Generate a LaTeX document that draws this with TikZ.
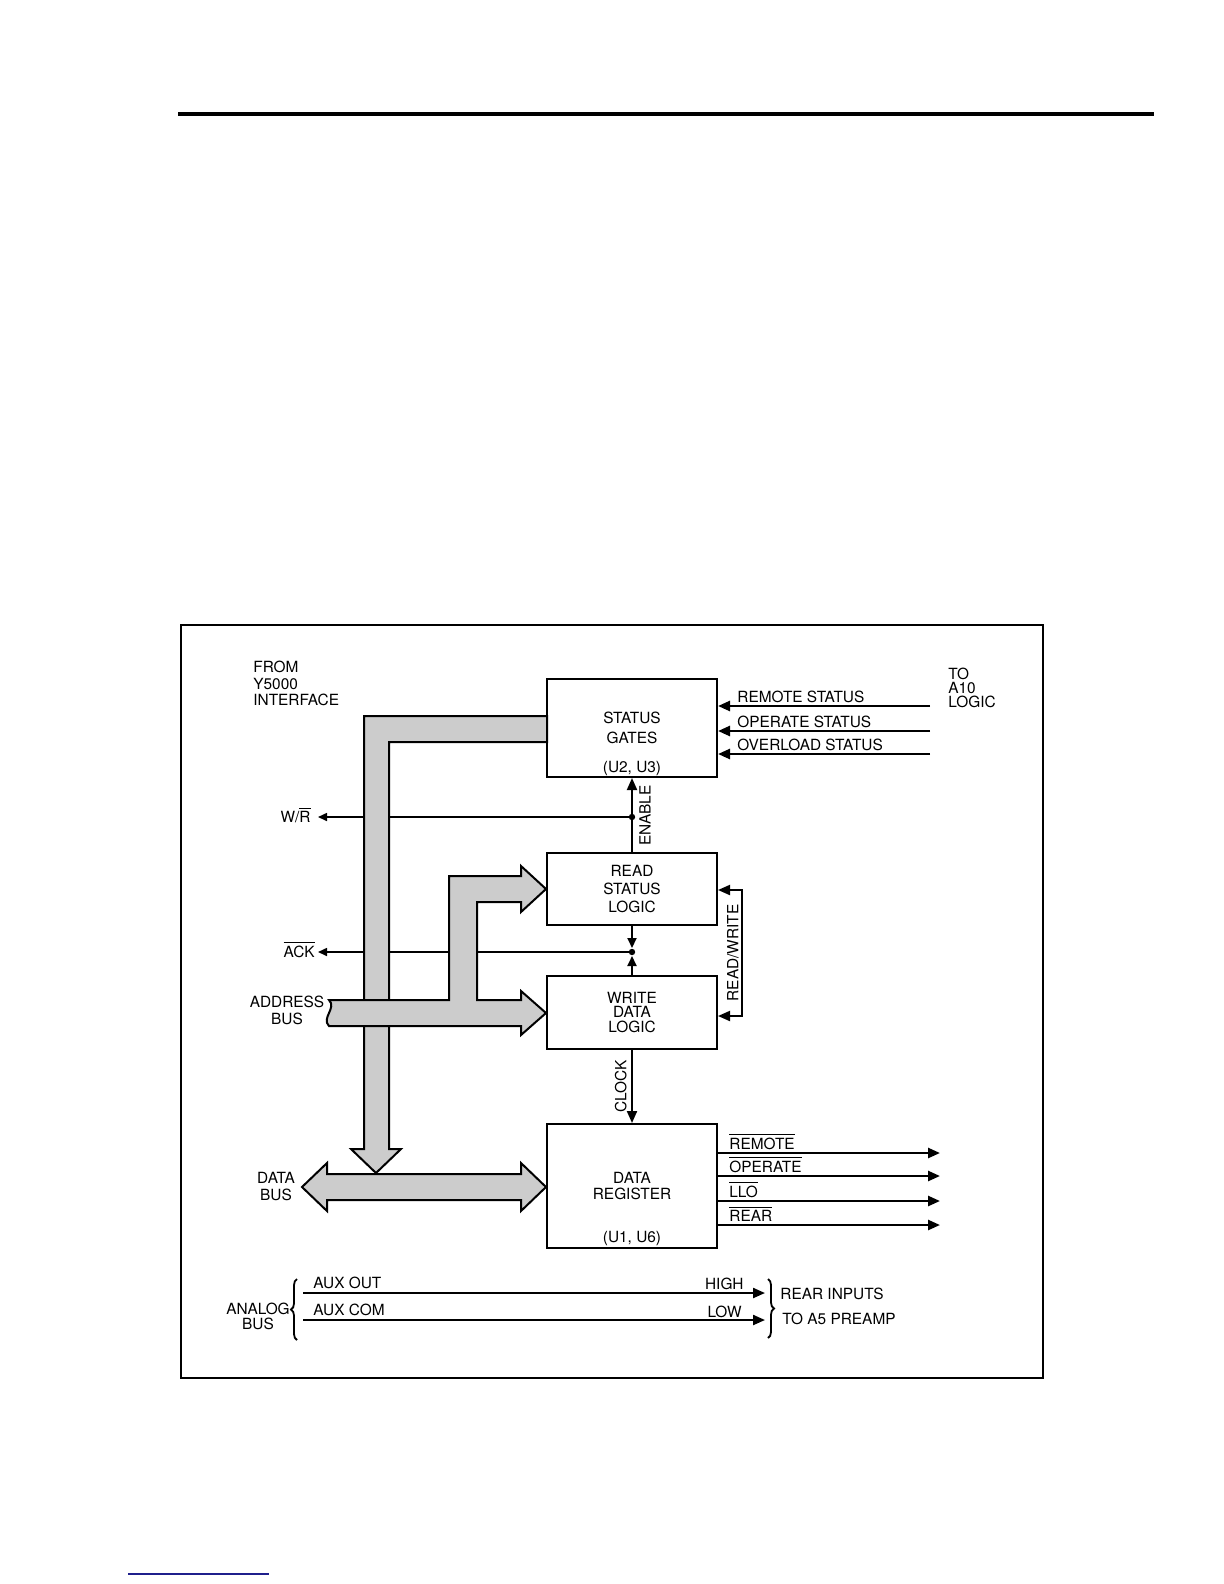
\documentclass[tikz,border=0pt]{standalone}
\usepackage{fontspec}
\setmainfont{TeX Gyre Heros}
\usepackage{tikz}
\usetikzlibrary{positioning, arrows.meta, decorations.pathreplacing}
\definecolor{busgray}{gray}{0.8}
\definecolor{linkblue}{rgb}{0.12, 0.12, 0.55}
\newcommand{\negsig}[1]{$\overline{\mbox{#1}}$}

\begin{document}
\begin{tikzpicture}[
    x=0.5pt, y=-0.5pt,
    every node/.style={font=\fontsize{7.7}{9}\selectfont, inner sep=0pt, align=center},
    box/.style   ={draw, line width=1pt, minimum width=85pt},
    bus/.style   ={draw, fill=busgray, line width=1pt, line join=miter},
    sig/.style   ={line width=1.25pt, -{Triangle[length=6pt, width=5pt]}},
    ctl/.style   ={line width=1pt, -{Triangle[length=6pt, width=5pt]}},
    tap/.style   ={line width=1pt, -{Triangle[length=5pt, width=4.5pt]}, shorten >=2pt},
    wire/.style  ={line width=0.8pt, -{Triangle[length=4.5pt, width=4pt]}},
    tag/.style   ={anchor=base west},
    rtag/.style  ={anchor=base east},
    vtag/.style  ={rotate=90}
]
\useasboundingbox (0,0) rectangle (1224,1584);
% page rules and frame
\draw[line width=1.6pt] (178,114) -- (1154,114);
\draw[linkblue, line width=0.8pt] (128,1574) -- (269,1574);
\draw[line width=0.7pt] (181,625) rectangle (1043,1378);
% Blocks
\node[box, minimum height=49pt] (gates) at (632,728) {STATUS\\[0.75pt]GATES};
\node[box, minimum height=36pt, below=37pt of gates]       (rdlogic) {READ\\STATUS\\LOGIC};
\node[box, minimum height=36.5pt, below=24.5pt of rdlogic] (wrlogic) {WRITE\\[-1.6pt]DATA\\[-1.6pt]LOGIC};
\node[box, minimum height=62pt, below=36.5pt of wrlogic]   (datareg) {DATA\\[-0.75pt]REGISTER};
\node[anchor=base] (gatesid) at ([yshift=3pt]gates.south)     {(U2, U3)};
\node[anchor=base] (dataid)  at ([yshift=3.5pt]datareg.south) {(U1, U6)};
% outside labels
\node[anchor=north west, align=left, font=\fontsize{7.7}{8.25}\selectfont] (from)  at (253,661) {FROM\\Y5000\\INTERFACE};
\node[anchor=north west, align=left, font=\fontsize{7.7}{6.85}\selectfont] (toa10) at (948,668) {TO\\A10\\LOGIC};
% status inputs from A10
\foreach \y/\nm/\txt in {706/rem/REMOTE STATUS, 731/opr/OPERATE STATUS, 754/ovl/OVERLOAD STATUS} {
  \coordinate (\nm-in) at (930,\y);
  \draw[sig] (\nm-in) -- (gates.east |- \nm-in);
  \node[tag] (\nm-tag) at (737,\y-4) {\txt};
}
% W/R and ACK wires (under the buses)
\coordinate (endot)   at (632,817);
\coordinate (wr-tip)  at (318,817);
\coordinate (ackdot)  at (632,952);
\coordinate (ack-tip) at (318,952);
\node[rtag] (wr)  at (311,822) {W/\negsig{R}};
\node[rtag] (ack) at (315,957) {\negsig{ACK}};
\draw[wire] (endot) -- (wr-tip);
\draw[wire] (ackdot) -- (ack-tip);
% ENABLE
\draw[ctl] (rdlogic.north) -- (gates.south);
\node[vtag, anchor=north] (enable) at (639,815.5) {ENABLE};
\fill (endot) circle (1.6pt);
% ACK taps
\draw[tap] (rdlogic.south) -- (ackdot);
\draw[tap] (wrlogic.north) -- (ackdot);
\fill (ackdot) circle (1.6pt);
% READ/WRITE loop
\coordinate (rw-top) at (742,890);
\coordinate (rw-bot) at (742,1016);
\draw[ctl, {Triangle[length=6pt, width=5pt]}-{Triangle[length=6pt, width=5pt]}] (rdlogic.east |- rw-top) -- (rw-top) -- (rw-bot) -- (wrlogic.east |- rw-bot);
\node[vtag, anchor=south] (rwtag) at (739,953) {READ/WRITE};
% CLOCK
\draw[ctl] (wrlogic.south) -- (datareg.north);
\node[vtag, anchor=south] (clock) at (627,1086) {CLOCK};
% register outputs
\foreach \y/\nm/\txt in {1153/rem/REMOTE, 1176/opr/OPERATE, 1201/llo/LLO, 1225/rear/REAR} {
  \coordinate (\nm-out) at (940,\y);
  \draw[sig] (datareg.east |- \nm-out) -- (\nm-out);
  \node[tag] (\nm-otag) at (729,\y-4) {\negsig{\txt}};
}
% buses
\filldraw[bus] (547,716) -- (364,716) -- (364,1149) -- (351,1149) -- (376,1173) -- (401,1149) -- (389,1149) -- (389,742) -- (547,742) -- cycle;
\filldraw[bus] (329,1000) -- (449,1000) -- (449,876) -- (521,876) -- (521,866) -- (546,889) -- (521,912) -- (521,902) -- (477,902) -- (477,1000) -- (521,1000) -- (521,991) -- (546,1013) -- (521,1035) -- (521,1026) -- (329,1026) .. controls (321,1018) and (337,1008) .. (329,1000) -- cycle;
\filldraw[bus] (302,1187) -- (327,1163) -- (327,1174) -- (521,1174) -- (521,1163) -- (546,1187) -- (521,1211) -- (521,1200) -- (327,1200) -- (327,1211) -- cycle;
\node[font=\fontsize{7.7}{8.5}\selectfont] (addr)    at (287,1010) {ADDRESS\\BUS};
\node[font=\fontsize{7.7}{8.5}\selectfont] (databus) at (276,1187) {DATA\\BUS};
% analog bus
\coordinate (auxout) at (303,1293);
\coordinate (auxcom) at (303,1320);
\coordinate (hi-in)  at (765,1293);
\coordinate (lo-in)  at (765,1320);
\draw[sig, line width=1.1pt] (auxout) -- (hi-in);
\draw[sig, line width=1.1pt] (auxcom) -- (lo-in);
\node[tag]  (auxouttag) at (313,1288) {AUX OUT};
\node[tag]  (auxcomtag) at (313,1315) {AUX COM};
\node[rtag] (hightag)   at (744,1289) {HIGH};
\node[rtag] (lowtag)    at (742,1317) {LOW};
\draw[line width=0.9pt, decorate, decoration={brace, amplitude=3pt}] (297,1340) -- (297,1279);
\draw[line width=0.9pt, decorate, decoration={brace, amplitude=3pt}] (768,1279) -- (768,1338);
\node[font=\fontsize{7.7}{7.5}\selectfont] (analog) at (258,1316) {ANALOG\\BUS};
\node[tag] (reartag) at (780,1299) {REAR INPUTS};
\node[tag] (a5tag)   at (782,1324) {TO A5 PREAMP};
\end{tikzpicture}
\end{document}
